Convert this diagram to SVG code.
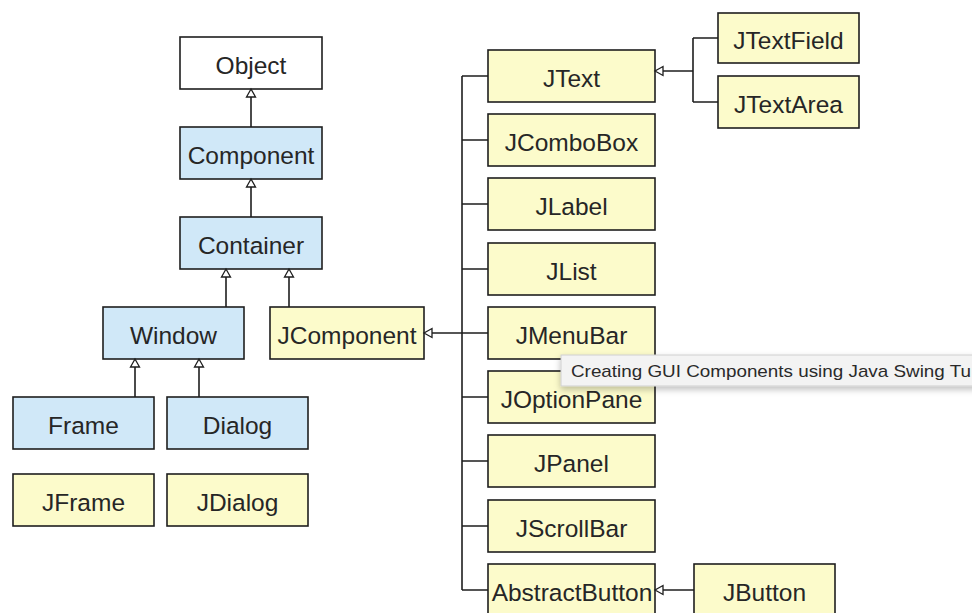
<svg xmlns="http://www.w3.org/2000/svg" width="972" height="613" viewBox="0 0 972 613">
  <style>
    .box rect { stroke: #1e1e1e; stroke-width: 1.6; }
    .plain rect { fill: #ffffff; }
    .awt rect { fill: #d0e8f8; }
    .swing rect { fill: #fcfbcb; }
    .box text { font-family: "Liberation Sans", Arial, sans-serif; font-size: 24.5px; fill: #262626; text-anchor: middle; }
    .link { stroke: #1e1e1e; stroke-width: 1.6; fill: none; }
    .tip text { font-family: "Liberation Sans", Arial, sans-serif; font-size: 17px; fill: #2a2a2a; }
  </style>
  <defs>
    <marker id="inherit" markerWidth="12" markerHeight="12" refX="10" refY="6" orient="auto" markerUnits="userSpaceOnUse">
      <path d="M10,6 L2,1.5 L2,10.5 Z" fill="#ffffff" stroke="#1e1e1e" stroke-width="1.3"/>
    </marker>
    <filter id="shadow" x="-5%" y="-40%" width="110%" height="200%">
      <feDropShadow dx="0" dy="3" stdDeviation="3" flood-color="#000" flood-opacity="0.25"/>
    </filter>
  </defs>

  <rect width="972" height="613" fill="#ffffff"/>

  <!-- AWT hierarchy -->
  <g id="object" class="box plain"><rect x="180" y="37" width="142" height="52"/><text x="251" y="74">Object</text></g>
  <g id="component" class="box awt"><rect x="180" y="127" width="142" height="52"/><text x="251" y="164">Component</text></g>
  <g id="container" class="box awt"><rect x="180" y="217" width="142" height="52"/><text x="251" y="254">Container</text></g>
  <g id="window" class="box awt"><rect x="103" y="307" width="141" height="52"/><text x="173.5" y="344">Window</text></g>
  <g id="frame" class="box awt"><rect x="13" y="397" width="141" height="52"/><text x="83.5" y="434">Frame</text></g>
  <g id="dialog" class="box awt"><rect x="167" y="397" width="141" height="52"/><text x="237.5" y="434">Dialog</text></g>

  <!-- Swing classes -->
  <g id="jcomponent" class="box swing"><rect x="270" y="307" width="154" height="52"/><text x="347" y="344">JComponent</text></g>
  <g id="jframe" class="box swing"><rect x="13" y="474" width="141" height="52"/><text x="83.5" y="511">JFrame</text></g>
  <g id="jdialog" class="box swing"><rect x="167" y="474" width="141" height="52"/><text x="237.5" y="511">JDialog</text></g>

  <g id="jtext" class="box swing"><rect x="488" y="50" width="167" height="52"/><text x="571.5" y="87">JText</text></g>
  <g id="jcombobox" class="box swing"><rect x="488" y="114" width="167" height="52"/><text x="571.5" y="151">JComboBox</text></g>
  <g id="jlabel" class="box swing"><rect x="488" y="178" width="167" height="52"/><text x="571.5" y="215">JLabel</text></g>
  <g id="jlist" class="box swing"><rect x="488" y="243" width="167" height="52"/><text x="571.5" y="280">JList</text></g>
  <g id="jmenubar" class="box swing"><rect x="488" y="307" width="167" height="52"/><text x="571.5" y="344">JMenuBar</text></g>
  <g id="joptionpane" class="box swing"><rect x="488" y="371" width="167" height="52"/><text x="571.5" y="408">JOptionPane</text></g>
  <g id="jpanel" class="box swing"><rect x="488" y="435" width="167" height="52"/><text x="571.5" y="472">JPanel</text></g>
  <g id="jscrollbar" class="box swing"><rect x="488" y="500" width="167" height="52"/><text x="571.5" y="537">JScrollBar</text></g>
  <g id="abstractbutton" class="box swing"><rect x="488" y="564" width="167" height="52"/><text x="572" y="601">AbstractButton</text></g>

  <g id="jtextfield" class="box swing"><rect x="718" y="13" width="141" height="50"/><text x="788.5" y="49">JTextField</text></g>
  <g id="jtextarea" class="box swing"><rect x="718" y="76" width="141" height="52"/><text x="788.5" y="113">JTextArea</text></g>
  <g id="jbutton" class="box swing"><rect x="694" y="564" width="141" height="52"/><text x="764.5" y="601">JButton</text></g>

  <!-- generalization connectors -->
  <g id="connectors">
    <line class="link" x1="251" y1="127" x2="251" y2="89" marker-end="url(#inherit)"/>
    <line class="link" x1="251" y1="217" x2="251" y2="179" marker-end="url(#inherit)"/>
    <line class="link" x1="226" y1="307" x2="226" y2="269" marker-end="url(#inherit)"/>
    <line class="link" x1="289" y1="307" x2="289" y2="269" marker-end="url(#inherit)"/>
    <line class="link" x1="135" y1="397" x2="135" y2="359" marker-end="url(#inherit)"/>
    <line class="link" x1="199" y1="397" x2="199" y2="359" marker-end="url(#inherit)"/>

    <!-- JComponent subclasses bus -->
    <path class="link" d="M462,76 V590"/>
    <path class="link" d="M462,76 H488 M462,140 H488 M462,204 H488 M462,269 H488 M462,333 H488 M462,397 H488 M462,461 H488 M462,526 H488 M462,590 H488"/>
    <line class="link" x1="462" y1="333" x2="424" y2="333" marker-end="url(#inherit)"/>

    <!-- JText subclasses -->
    <path class="link" d="M693,38 V102 M693,38 H718 M693,102 H718"/>
    <line class="link" x1="693" y1="71" x2="655" y2="71" marker-end="url(#inherit)"/>

    <!-- AbstractButton subclass -->
    <line class="link" x1="694" y1="590" x2="655" y2="590" marker-end="url(#inherit)"/>
  </g>

  <!-- hover tooltip -->
  <g id="tooltip" class="tip">
    <rect x="561" y="355" width="420" height="31" fill="#f3f3f3" stroke="#cfcfcf" stroke-width="1" filter="url(#shadow)"/>
    <text x="571" y="377" textLength="400" lengthAdjust="spacingAndGlyphs">Creating GUI Components using Java Swing Tu</text>
  </g>
</svg>
